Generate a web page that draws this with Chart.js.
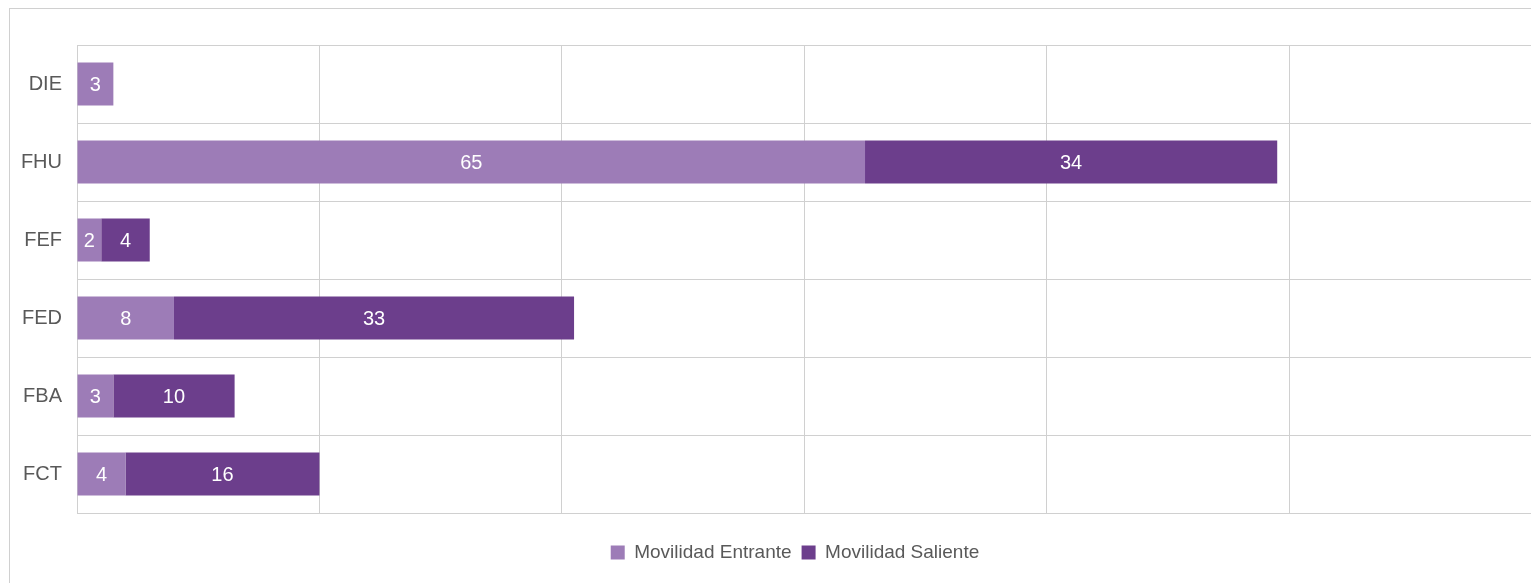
<!DOCTYPE html>
<html>
<head>
<meta charset="utf-8">
<script src="https://cdn.jsdelivr.net/npm/chart.js@4"></script>
<style>
  html, body { margin: 0; padding: 0; background: #fff; overflow: hidden; }
  #marco { position: absolute; left: 9px; top: 8px; width: 1700px; height: 800px; border: 1px solid #d0d0d0; }
  #caja { position: absolute; left: 0; top: 0; width: 1590px; height: 583px; }
</style>
</head>
<body>
<div id="marco"></div>
<div id="caja"><canvas id="grafico"></canvas></div>
<script>
const facultades = ['DIE', 'FHU', 'FEF', 'FED', 'FBA', 'FCT'];
const entrante = [3, 65, 2, 8, 3, 4];
const saliente = [null, 34, 4, 33, 10, 16];

const colorEntrante = '#9d7cb7';
const colorSaliente = '#6c3e8c';
const colorRejilla = '#d0d0d0';
const fuente = '"Liberation Sans", Arial, sans-serif';

// etiquetas blancas dentro de cada tramo
const etiquetasBarras = {
  id: 'etiquetasBarras',
  afterDatasetsDraw(chart) {
    const ctx = chart.ctx;
    ctx.save();
    ctx.fillStyle = '#ffffff';
    ctx.font = '20px ' + fuente;
    ctx.textAlign = 'center';
    ctx.textBaseline = 'middle';
    chart.data.datasets.forEach((ds, i) => {
      chart.getDatasetMeta(i).data.forEach((barra, j) => {
        const v = ds.data[j];
        if (v == null || v === 0) return;
        ctx.fillText(String(v), (barra.x + barra.base) / 2, barra.y + 1);
      });
    });
    ctx.restore();
  }
};

const ctx = document.getElementById('grafico').getContext('2d');
const grafico = new Chart(ctx, {
  type: 'bar',
  data: {
    labels: facultades,
    datasets: [{
      label: 'Movilidad Entrante',
      data: entrante,
      backgroundColor: colorEntrante
    }, {
      label: 'Movilidad Saliente',
      data: saliente,
      backgroundColor: colorSaliente
    }]
  },
  options: {
    indexAxis: 'y',
    responsive: true,
    maintainAspectRatio: false,
    animation: false,
    categoryPercentage: 1,
    barPercentage: 0.55,
    layout: { padding: { top: 45, left: 0, right: 0, bottom: 11 } },
    scales: {
      x: {
        stacked: true,
        min: 0,
        max: 124.8,
        ticks: { display: false, stepSize: 20 },
        grid: { color: colorRejilla, lineWidth: 1, drawTicks: false },
        border: { color: colorRejilla },
        afterFit(scale) { scale.height = 20; }
      },
      y: {
        stacked: true,
        ticks: {
          color: '#595959',
          padding: 15,
          font: { family: fuente, size: 20 }
        },
        grid: { color: colorRejilla, lineWidth: 1, drawTicks: false, offset: true },
        border: { color: colorRejilla },
        afterFit(scale) { scale.width = 77; }
      }
    },
    plugins: {
      legend: {
        position: 'bottom',
        labels: {
          color: '#595959',
          boxWidth: 14,
          boxHeight: 14,
          padding: 10,
          font: { family: fuente, size: 19 }
        }
      },
      tooltip: { enabled: false }
    }
  },
  plugins: [etiquetasBarras]
});
</script>
</body>
</html>
